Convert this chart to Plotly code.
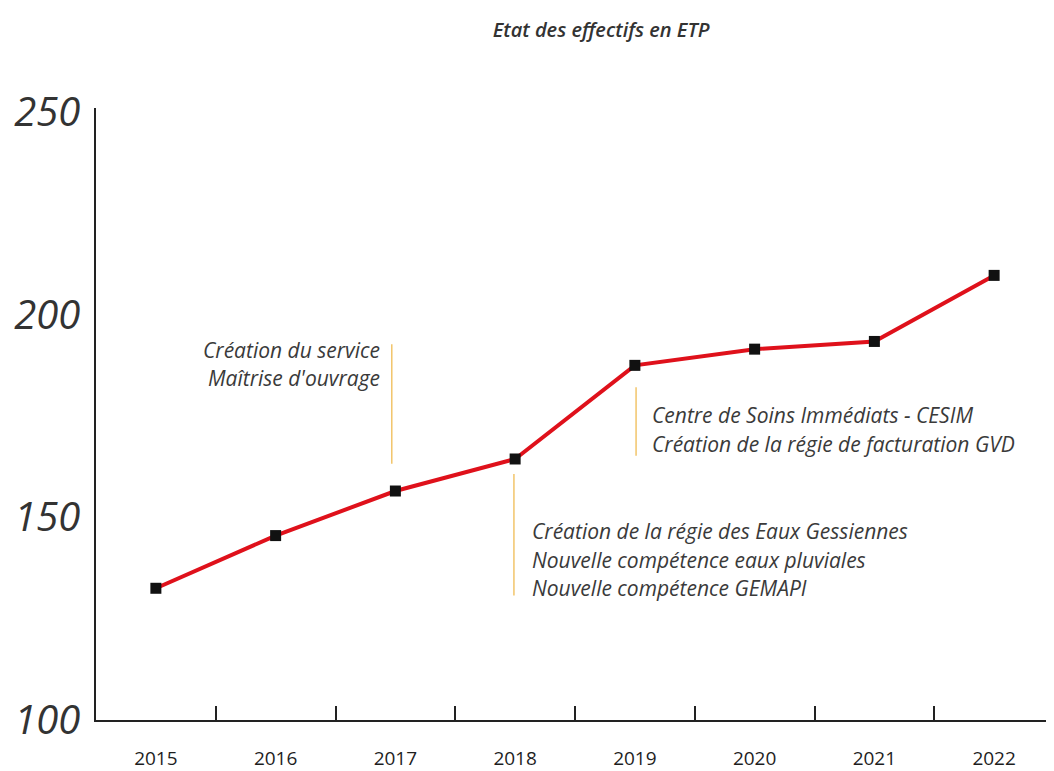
import plotly.graph_objects as go

years = ["2015", "2016", "2017", "2018", "2019", "2020", "2021", "2022"]
etp = [132.5, 145.5, 156.5, 164.4, 187.5, 191.5, 193.4, 209.7]
y_ticks = [100, 150, 200, 250]

note1_lines = ["Création du service", "Maîtrise d'ouvrage"]
note2_lines = ["Création de la régie des Eaux Gessiennes",
               "Nouvelle compétence eaux pluviales",
               "Nouvelle compétence GEMAPI"]
note3_lines = ["Centre de Soins Immédiats - CESIM",
               "Création de la régie de facturation GVD"]

fig = go.Figure()
fig.add_trace(go.Scatter(
    x=years, y=etp, mode="lines+markers",
    line=dict(color="#df111b", width=4),
    marker=dict(symbol="square", size=11, color="#111111"),
    hoverinfo="skip", showlegend=False,
))

gold = "#f2c56a"
shapes = [
    dict(type="line", xref="x", yref="y", x0=1.97, x1=1.97, y0=163.2, y1=192.7,
         line=dict(color=gold, width=1.5)),
    dict(type="line", xref="x", yref="y", x0=2.99, x1=2.99, y0=130.7, y1=160.7,
         line=dict(color=gold, width=1.5)),
    dict(type="line", xref="x", yref="y", x0=4.01, x1=4.01, y0=165.2, y1=182.1,
         line=dict(color=gold, width=1.5)),
]

font_ann = dict(family="Open Sans", size=21, color="#3a3a3a", style="italic")
annotations = []
for txt, yy in zip(note1_lines, [191.2, 184.4]):
    annotations.append(dict(x=1.89, y=yy, xref="x", yref="y", text=txt, showarrow=False,
                            xanchor="right", yanchor="middle", font=font_ann))
for txt, yy in zip(note2_lines, [146.7, 139.5, 132.5]):
    annotations.append(dict(x=3.125, y=yy, xref="x", yref="y", text=txt, showarrow=False,
                            xanchor="left", yanchor="middle", font=font_ann))
for txt, yy in zip(note3_lines, [175.3, 168.0]):
    annotations.append(dict(x=4.125, y=yy, xref="x", yref="y", text=txt, showarrow=False,
                            xanchor="left", yanchor="middle", font=font_ann))

fig.update_layout(
    width=1046, height=763,
    margin=dict(l=88, r=0, t=100, b=49),
    paper_bgcolor="white", plot_bgcolor="white",
    title=dict(text="Etat des effectifs en ETP", x=0.567, xanchor="center",
               y=0.971, yanchor="middle",
               font=dict(family="Open Sans", size=20, color="#333333", style="italic",
                         weight=600)),
    xaxis=dict(
        type="category", range=[-0.5, 7.5],
        showgrid=False, zeroline=False,
        showline=True, linecolor="#222222", linewidth=1.5,
        ticks="inside", tickson="boundaries", ticklen=14, tickcolor="#222222", tickwidth=1.5,
        ticklabelstandoff=20,
        tickfont=dict(family="Open Sans", size=19, color="#1e1e1e"),
    ),
    yaxis=dict(
        range=[100, 251], tickmode="array", tickvals=y_ticks,
        showgrid=False, zeroline=False,
        showline=True, linecolor="#222222", linewidth=1.5, ticks="",
        ticklabelstandoff=6,
        tickfont=dict(family="Open Sans", size=40, color="#333333", style="italic"),
    ),
    shapes=shapes, annotations=annotations,
)

fig.write_html("out.html")
